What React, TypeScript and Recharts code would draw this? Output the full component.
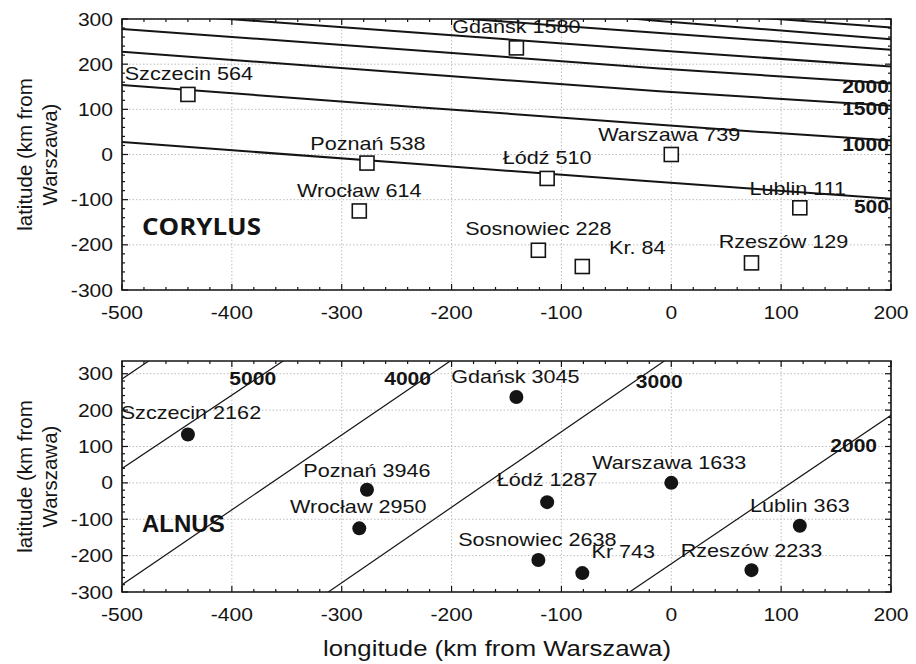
import React from 'react';
import { ComposedChart, Line, Scatter, XAxis, YAxis, CartesianGrid, ReferenceArea, Customized } from 'recharts';

// station coordinates, km relative to Warszawa
const CITIES = ['Gdańsk', 'Szczecin', 'Poznań', 'Wrocław', 'Łódź', 'Warszawa', 'Lublin', 'Sosnowiec', 'Kraków', 'Rzeszów'];
const LONGITUDE = [-141, -440, -277, -284, -113, 0, 117, -121, -81, 73];
const LATITUDE = [236, 133, -19, -125, -53, 0, -118, -212, -248, -240];

// seasonal pollen sums
const CORYLUS = [1580, 564, 538, 614, 510, 739, 111, 228, 84, 129];
const ALNUS = [3045, 2162, 3946, 2950, 1287, 1633, 363, 2638, 743, 2233];

const CORYLUS_NAMES = ['Gdańsk', 'Szczecin', 'Poznań', 'Wrocław', 'Łódź', 'Warszawa', 'Lublin', 'Sosnowiec', 'Kr.', 'Rzeszów'];
const ALNUS_NAMES = ['Gdańsk', 'Szczecin', 'Poznań', 'Wrocław', 'Łódź', 'Warszawa', 'Lublin', 'Sosnowiec', 'Kr', 'Rzeszów'];

const X_MAJOR = [-500, -400, -300, -200, -100, 0, 100, 200];
const Y_MAJOR = [-300, -200, -100, 0, 100, 200, 300];

// isolines of the fitted surface, [longitude, latitude] pairs
const CORYLUS_ISOLINES: { level: number; pts: number[][] }[] = [
  { level: 500, pts: [[-500, 27.6], [-233.6, -20.7], [-29, -57.7], [200, -98]] },
  { level: 1000, pts: [[-500, 153.8], [-233.6, 105.3], [-10.9, 66], [62, 53], [200, 31]] },
  { level: 1500, pts: [[-500, 227.6], [-233.6, 179.3], [-10.9, 140], [200, 108]] },
  { level: 2000, pts: [[-500, 277.8], [-233.6, 231], [-10.9, 190.5], [200, 157]] },
  { level: 2500, pts: [[-420, 303], [-233.6, 270], [-10.9, 230], [200, 195]] },
  { level: 3000, pts: [[-200, 303], [-101.8, 285.3], [200, 232]] },
  { level: 3500, pts: [[-45, 303], [-10.9, 295.6], [200, 255]] },
  { level: 4000, pts: [[80, 303], [200, 281]] },
];

const ALNUS_ISOLINES: { level: number; pts: number[][] }[] = [
  { level: 6000, pts: [[-520, 245], [-460, 367]] },
  { level: 5000, pts: [[-520, -1], [-340, 362]] },
  { level: 4000, pts: [[-520, -321], [-190, 358]] },
  { level: 3000, pts: [[-330, -337], [10, 369]] },
  { level: 2000, pts: [[-60, -345], [220, 227]] },
];

// where the level numbers are written
const CORYLUS_LEVEL_LABELS = [
  { level: 2000, x: 200, y: 150 },
  { level: 1500, x: 200, y: 101 },
  { level: 1000, x: 200, y: 22 },
  { level: 500, x: 200, y: -116 },
];
const ALNUS_LEVEL_LABELS = [
  { level: 5000, x: -381, y: 286 },
  { level: 4000, x: -240, y: 286 },
  { level: 3000, x: -11, y: 279 },
  { level: 2000, x: 166, y: 102 },
];

// label placement around each marker: [dx of text centre, dy of baseline], px
const CORYLUS_LABEL_OFFSET = [[0, -15], [1, -14], [1, -13], [0, -14], [0, -14], [-2, -14], [-2, -13], [0, -15], [55, -13], [32, -15]];
const ALNUS_LABEL_OFFSET = [[-1, -14], [3, -15], [0, -13], [-1, -15], [0, -16], [-2, -14], [0, -14], [-1, -14], [41, -15], [0, -13]];

const FONT = '"Liberation Sans", Arial, sans-serif';
const INK = '#141414';
const WIDTH = 916;
const PLOT_LEFT = 122;
const PLOT_RIGHT = 891;

const minorTicks = (from: number, to: number, step: number) => {
  const out: number[] = [];
  for (let v = from; v <= to; v += step) out.push(v);
  return out;
};

const Stretched = ({ x, y, size, anchor = 'middle', weight = 400, sx = 1.17, family = FONT, children }: any) => (
  <text
    transform={`translate(${x},${y}) scale(${sx},1)`}
    textAnchor={anchor}
    fontSize={size}
    fontWeight={weight}
    fontFamily={family}
    fill={INK}
  >
    {children}
  </text>
);

const XTick = ({ x, y, payload, plotTop }: any) => {
  const major = payload.value % 100 === 0;
  const len = major ? 6 : 3;
  return (
    <g>
      <line x1={x} x2={x} y1={y} y2={y - len} stroke={INK} strokeWidth={1.2} />
      <line x1={x} x2={x} y1={plotTop} y2={plotTop + len} stroke={INK} strokeWidth={1.2} />
      {major && <Stretched x={x} y={y + 29} size={18}>{payload.value}</Stretched>}
    </g>
  );
};

const YTick = ({ x, y, payload }: any) => {
  const major = payload.value % 100 === 0;
  const len = major ? 6 : 3;
  return (
    <g>
      <line x1={x} x2={x + len} y1={y} y2={y} stroke={INK} strokeWidth={1.2} />
      <line x1={PLOT_RIGHT} x2={PLOT_RIGHT - len} y1={y} y2={y} stroke={INK} strokeWidth={1.2} />
      {major && <Stretched x={x - 9} y={y + 6.5} size={18} anchor="end">{payload.value}</Stretched>}
    </g>
  );
};

type PanelProps = {
  height: number;
  plotTop: number;
  axisHeight: number;
  yMax: number;
  values: number[];
  names: string[];
  offsets: number[][];
  isolines: { level: number; pts: number[][] }[];
  levelLabels: { level: number; x: number; y: number }[];
  marker: 'square' | 'dot';
  lineWidth: number;
  species: React.ReactNode;
  xTitle?: boolean;
};

const Panel = ({ height, plotTop, axisHeight, yMax, values, names, offsets, isolines, levelLabels, marker, lineWidth, species, xTitle }: PanelProps) => {
  const stations = CITIES.map((c, i) => ({ x: LONGITUDE[i], y: LATITUDE[i], name: names[i], value: values[i], idx: i }));
  const plotBottom = height - axisHeight;
  const midY = (plotTop + plotBottom) / 2;
  const rightAligned = marker === 'square';

  const stationShape = (p: any) => {
    const { cx, cy, payload } = p;
    const [dx, dy] = offsets[payload.idx];
    return (
      <g>
        {marker === 'square' ? (
          <rect x={cx - 7} y={cy - 7} width={14} height={14} fill="#fff" stroke={INK} strokeWidth={1.6} />
        ) : (
          <circle cx={cx} cy={cy} r={7} fill={INK} />
        )}
        <Stretched x={cx + dx} y={cy + dy} size={18} sx={1.2}>{`${payload.name} ${payload.value}`}</Stretched>
      </g>
    );
  };

  const levelShape = (p: any) => {
    const { cx, cy, payload } = p;
    return rightAligned ? (
      <Stretched x={cx - 2} y={cy + 6.5} size={18} weight={700} anchor="end">{payload.level}</Stretched>
    ) : (
      <Stretched x={cx} y={cy + 6.5} size={18} weight={700}>{payload.level}</Stretched>
    );
  };

  return (
    <ComposedChart width={WIDTH} height={height} margin={{ top: plotTop, right: WIDTH - PLOT_RIGHT, bottom: 0, left: 0 }}>
      <CartesianGrid
        horizontalValues={Y_MAJOR}
        verticalValues={X_MAJOR}
        stroke="#bdbdbd"
        strokeDasharray="1.5 2"
        strokeWidth={1}
      />
      <XAxis
        type="number"
        dataKey="x"
        domain={[-500, 200]}
        allowDataOverflow
        ticks={minorTicks(-500, 200, 20)}
        interval={0}
        tickSize={0}
        tickMargin={0}
        tickLine={false}
        axisLine={false}
        height={axisHeight}
        tick={<XTick plotTop={plotTop} />}
      />
      <YAxis
        type="number"
        dataKey="y"
        domain={[-300, yMax]}
        allowDataOverflow
        ticks={minorTicks(-300, yMax, 20)}
        interval={0}
        tickSize={0}
        tickMargin={0}
        tickLine={false}
        axisLine={false}
        width={PLOT_LEFT}
        tick={<YTick />}
      />
      {isolines.map((iso) => (
        <Line
          key={iso.level}
          data={iso.pts.map(([x, y]) => ({ x, y }))}
          dataKey="y"
          type="linear"
          stroke={INK}
          strokeWidth={lineWidth}
          dot={false}
          activeDot={false}
          isAnimationActive={false}
        />
      ))}
      <Scatter data={levelLabels} shape={levelShape} isAnimationActive={false} />
      <Scatter data={stations} shape={stationShape} isAnimationActive={false} />
      <ReferenceArea x1={-500} x2={200} y1={-300} y2={yMax} fill="none" stroke={INK} strokeWidth={1.6} />
      <Customized
        component={() => (
          <g>
            <text transform={`rotate(-90, 32, ${midY})`} x={32} y={midY} textAnchor="middle" fontSize={20.5} fontFamily={FONT} fill={INK}>
              latitude (km from
            </text>
            <text transform={`rotate(-90, 57, ${midY})`} x={57} y={midY} textAnchor="middle" fontSize={20.5} fontFamily={FONT} fill={INK}>
              Warszawa)
            </text>
            {species}
            {xTitle && (
              <Stretched x={497} y={height - 8} size={22}>longitude (km from Warszawa)</Stretched>
            )}
          </g>
        )}
      />
    </ComposedChart>
  );
};

export default function App() {
  return (
    <div style={{ position: 'absolute', left: 0, top: 0, width: WIDTH, height: 664, background: '#fff' }}>
      <Panel
        height={330}
        plotTop={19}
        axisHeight={40}
        yMax={300}
        values={CORYLUS}
        names={CORYLUS_NAMES}
        offsets={CORYLUS_LABEL_OFFSET}
        isolines={CORYLUS_ISOLINES}
        levelLabels={CORYLUS_LEVEL_LABELS}
        marker="square"
        lineWidth={2}
        species={<Stretched x={142} y={235} size={24} weight={700} anchor="start" sx={1.08} family='"Open Sans", sans-serif'>CORYLUS</Stretched>}
      />
      <Panel
        height={334}
        plotTop={31}
        axisHeight={72}
        yMax={335}
        values={ALNUS}
        names={ALNUS_NAMES}
        offsets={ALNUS_LABEL_OFFSET}
        isolines={ALNUS_ISOLINES}
        levelLabels={ALNUS_LEVEL_LABELS}
        marker="dot"
        lineWidth={1.2}
        species={<Stretched x={142} y={202} size={24} weight={700} anchor="start" sx={1}>ALNUS</Stretched>}
        xTitle
      />
    </div>
  );
}
